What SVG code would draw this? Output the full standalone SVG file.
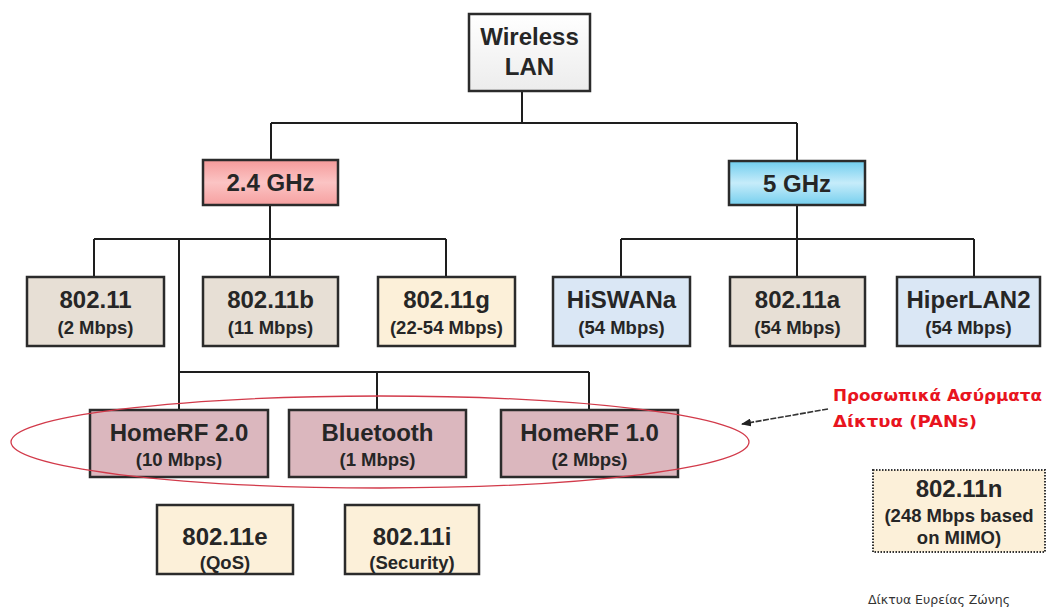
<svg xmlns="http://www.w3.org/2000/svg" width="1047" height="612" viewBox="0 0 1047 612">
  <style>
    .box { stroke: #2b2b2b; stroke-width: 2.5; }
    .main { font-family: "Liberation Sans", Arial, sans-serif; font-weight: bold; font-size: 24px; fill: #262626; text-anchor: middle; }
    .sub { font-family: "Liberation Sans", Arial, sans-serif; font-weight: bold; font-size: 18.5px; fill: #262626; text-anchor: middle; }
    .conn { stroke: #1e1e1e; stroke-width: 2; fill: none; }
    .beige { fill: #e7dfd5; }
    .cream { fill: #fcf0d9; }
    .lblue { fill: #dae7f5; }
    .pink { fill: #dbb7be; }
  </style>
  <defs>
    <linearGradient id="gPink" x1="0" y1="0" x2="0" y2="1">
      <stop offset="0" stop-color="#f59a9a"/>
      <stop offset="0.5" stop-color="#fbc4c4"/>
      <stop offset="1" stop-color="#f6a0a0"/>
    </linearGradient>
    <linearGradient id="gBlue" x1="0" y1="0" x2="0" y2="1">
      <stop offset="0" stop-color="#6fcdee"/>
      <stop offset="0.5" stop-color="#c6ecfa"/>
      <stop offset="1" stop-color="#75cfee"/>
    </linearGradient>
    <linearGradient id="gWhite" x1="0" y1="0" x2="0" y2="1">
      <stop offset="0" stop-color="#ffffff"/>
      <stop offset="1" stop-color="#ececec"/>
    </linearGradient>
    <marker id="arr" markerWidth="10" markerHeight="8" refX="9" refY="4" orient="auto" markerUnits="userSpaceOnUse">
      <path d="M0,0 L10,4 L0,8 z" fill="#222"/>
    </marker>
  </defs>
  <rect width="1047" height="612" fill="#ffffff"/>

  <g id="connectors">
    <path class="conn" d="M522,91 V123 M271,123 H797 M271,123 V160 M797,123 V161"/>
    <path class="conn" d="M270,205 V239 M94,239 H446 M94,239 V277 M270,239 V277 M446,239 V277 M179,239 V410"/>
    <path class="conn" d="M797,205 V239 M621,239 H974 M621,239 V277 M797,239 V277 M974,239 V277"/>
    <path class="conn" d="M179,372 H589 M377,372 V410 M589,372 V410"/>
  </g>

  <g id="n-wlan">
    <rect class="box" x="469" y="14" width="121" height="77" fill="url(#gWhite)"/>
    <text class="main" x="529.5" y="45">Wireless</text>
    <text class="main" x="529.5" y="75">LAN</text>
  </g>
  <g id="n-24">
    <rect class="box" x="203" y="160" width="135" height="45" fill="url(#gPink)"/>
    <text class="main" x="270.5" y="191">2.4 GHz</text>
  </g>
  <g id="n-5">
    <rect class="box" x="729" y="161" width="136" height="44" fill="url(#gBlue)"/>
    <text class="main" x="797" y="192">5 GHz</text>
  </g>

  <g id="n-80211">
    <rect class="box beige" x="27" y="277" width="137" height="69"/>
    <text class="main" x="95.5" y="308">802.11</text>
    <text class="sub" x="95.5" y="334">(2 Mbps)</text>
  </g>
  <g id="n-80211b">
    <rect class="box beige" x="203" y="277" width="135" height="69"/>
    <text class="main" x="270.5" y="308">802.11b</text>
    <text class="sub" x="270.5" y="334">(11 Mbps)</text>
  </g>
  <g id="n-80211g">
    <rect class="box cream" x="378" y="277" width="137" height="69"/>
    <text class="main" x="446.5" y="308">802.11g</text>
    <text class="sub" x="446.5" y="334">(22-54 Mbps)</text>
  </g>
  <g id="n-hiswana">
    <rect class="box lblue" x="553" y="277" width="137" height="69"/>
    <text class="main" x="621.5" y="308">HiSWANa</text>
    <text class="sub" x="621.5" y="334">(54 Mbps)</text>
  </g>
  <g id="n-80211a">
    <rect class="box beige" x="730" y="277" width="135" height="69"/>
    <text class="main" x="797.5" y="308">802.11a</text>
    <text class="sub" x="797.5" y="334">(54 Mbps)</text>
  </g>
  <g id="n-hiperlan2">
    <rect class="box lblue" x="897" y="277" width="143" height="69"/>
    <text class="main" x="968.5" y="308">HiperLAN2</text>
    <text class="sub" x="968.5" y="334">(54 Mbps)</text>
  </g>

  <g id="n-homerf2">
    <rect class="box pink" x="90" y="410" width="178" height="67"/>
    <text class="main" x="179" y="441">HomeRF 2.0</text>
    <text class="sub" x="179" y="466">(10 Mbps)</text>
  </g>
  <g id="n-bluetooth">
    <rect class="box pink" x="289" y="410" width="177" height="67"/>
    <text class="main" x="377.5" y="441">Bluetooth</text>
    <text class="sub" x="377.5" y="466">(1 Mbps)</text>
  </g>
  <g id="n-homerf1">
    <rect class="box pink" x="501" y="410" width="177" height="67"/>
    <text class="main" x="589.5" y="441">HomeRF 1.0</text>
    <text class="sub" x="589.5" y="466">(2 Mbps)</text>
  </g>

  <g id="pan-group">
    <ellipse cx="380" cy="442" rx="369" ry="46" fill="none" stroke="#d23a4a" stroke-width="1.3"/>
    <line x1="828" y1="409" x2="742" y2="424" stroke="#333" stroke-width="1.6" stroke-dasharray="6 1.5" marker-end="url(#arr)"/>
    <text font-family="'DejaVu Sans', Verdana, sans-serif" font-weight="bold" font-size="16" fill="#e8141e" x="833" y="401" textLength="209" lengthAdjust="spacingAndGlyphs">Προσωπικά Ασύρματα</text>
    <text font-family="'DejaVu Sans', Verdana, sans-serif" font-weight="bold" font-size="16" fill="#e8141e" x="833" y="427" textLength="144" lengthAdjust="spacingAndGlyphs">Δίκτυα (PANs)</text>
  </g>

  <g id="n-80211e">
    <rect class="box cream" x="157" y="505" width="136" height="69"/>
    <text class="main" x="225" y="545">802.11e</text>
    <text class="sub" x="225" y="569">(QoS)</text>
  </g>
  <g id="n-80211i">
    <rect class="box cream" x="345" y="505" width="134" height="69"/>
    <text class="main" x="412" y="545">802.11i</text>
    <text class="sub" x="412" y="569">(Security)</text>
  </g>
  <g id="n-80211n">
    <rect x="873" y="470" width="172" height="82" fill="#fcf0d9" stroke="#333" stroke-width="2" stroke-dasharray="1.5 1.5"/>
    <text class="main" x="959" y="497">802.11n</text>
    <text class="sub" x="959" y="522">(248 Mbps based</text>
    <text class="sub" x="959" y="544">on MIMO)</text>
  </g>

  <text font-family="'DejaVu Sans', Verdana, sans-serif" font-size="12" fill="#333" x="868" y="604" textLength="142" lengthAdjust="spacingAndGlyphs">Δίκτυα Ευρείας Ζώνης</text>
</svg>
